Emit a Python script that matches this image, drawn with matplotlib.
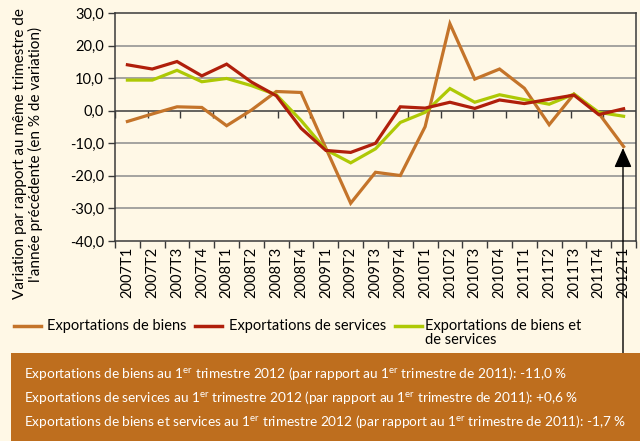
import matplotlib
matplotlib.use("Agg")
import matplotlib.pyplot as plt
import matplotlib.transforms as mtransforms
from matplotlib.lines import Line2D
from matplotlib.patches import Rectangle
import numpy as np

plt.rcParams['font.family'] = ['Lato', 'DejaVu Sans']
plt.rcParams['mathtext.fontset'] = 'custom'
plt.rcParams['mathtext.rm'] = 'Lato'
plt.rcParams['mathtext.it'] = 'Lato:italic'

# Donnees
trimestres = ['2007T1', '2007T2', '2007T3', '2007T4',
              '2008T1', '2008T2', '2008T3', '2008T4',
              '2009T1', '2009T2', '2009T3', '2009T4',
              '2010T1', '2010T2', '2010T3', '2010T4',
              '2011T1', '2011T2', '2011T3', '2011T4', '2012T1']
biens = [-3.3, -1.0, 1.2, 1.0, -4.6, 0.2, 5.9, 5.6,
         -11.5, -28.4, -18.9, -19.9, -4.9, 26.7, 9.7, 12.8,
         6.9, -4.3, 5.1, -0.8, -11.0]
services = [14.1, 12.8, 15.1, 10.7, 14.3, 8.8, 4.6, -5.4,
            -12.2, -12.8, -10.0, 1.2, 0.8, 2.6, 0.7, 3.3,
            2.2, 3.5, 4.8, -1.2, 0.6]
biens_services = [9.4, 9.4, 12.4, 8.9, 9.9, 7.7, 4.9, -3.0,
                  -12.0, -16.0, -11.7, -3.6, -0.5, 6.8, 2.6, 4.9,
                  3.4, 2.0, 5.1, -0.5, -1.7]

legend_labels = ['Exportations de biens', 'Exportations de services',
                 'Exportations de biens et\nde services']
box_lines = [
    'Exportations de biens au 1$^{\\mathrm{er}}$ trimestre 2012 (par rapport au 1$^{\\mathrm{er}}$ trimestre de 2011): -11,0 %',
    'Exportations de services au 1$^{\\mathrm{er}}$ trimestre 2012 (par rapport au 1$^{\\mathrm{er}}$ trimestre de 2011): +0,6 %',
    'Exportations de biens et services au 1$^{\\mathrm{er}}$ trimestre 2012 (par rapport au 1$^{\\mathrm{er}}$ trimestre de 2011): -1,7 %',
]

COLORS = {
    'biens': '#C4742A',
    'services': '#B01F0B',
    'mix': '#AEC905',
    'bg': '#FFF8E6',
    'box': '#BE6E1E',
    'grid': '#8C8C8C',
    'axis': '#3A3A3A',
}

W, H = 640, 441
fig = plt.figure(figsize=(W / 100, H / 100), dpi=100, facecolor=COLORS['bg'])
ax = fig.add_axes([115 / W, 1 - 241 / H, 521 / W, 228 / H])
ax.set_facecolor(COLORS['bg'])

x = np.arange(len(trimestres))
ax.plot(x, biens, color=COLORS['biens'], lw=2.3, zorder=3, solid_joinstyle='miter')
ax.plot(x, biens_services, color=COLORS['mix'], lw=2.3, zorder=4, solid_joinstyle='miter')
ax.plot(x, services, color=COLORS['services'], lw=2.3, zorder=5, solid_joinstyle='miter')

ax.set_xlim(-0.5, len(trimestres) - 0.5)
ax.set_ylim(-40, 30)
yt = np.arange(-40, 31, 10)
ax.set_yticks(yt)
ax.set_yticklabels([f'{v:.1f}'.replace('.', ',') for v in yt], fontsize=10.5)
for v in yt[1:-1]:
    if v != 0:
        ax.axhline(v, color=COLORS['grid'], lw=1.1, zorder=1)
ax.axhline(0, color=COLORS['axis'], lw=1.1, zorder=2)

# petites graduations sur la ligne du zero
trans = mtransforms.blended_transform_factory(ax.transAxes, ax.transData)
ax.vlines(np.linspace(0, 1, 17), -2.2, 0, transform=trans, color=COLORS['axis'], lw=1, zorder=2)

ax.set_xticks(x)
ax.set_xticklabels(trimestres, rotation=90, fontsize=10.5)
ax.set_xticks(np.arange(-0.5, len(trimestres)), minor=True)
ax.tick_params(axis='x', which='major', length=0, pad=4)
ax.tick_params(axis='x', which='minor', length=5, width=1, color=COLORS['axis'])
ax.tick_params(axis='y', length=5, width=1, color=COLORS['axis'], pad=3)
for s in ax.spines.values():
    s.set_color(COLORS['axis'])
    s.set_linewidth(1.1)

fig.text(28 / W, 1 - 154 / H,
         "Variation par rapport au même trimestre de\nl'année précédente (en % de variation)",
         rotation=90, ha='center', va='center', multialignment='center',
         fontsize=11, linespacing=1.0)

# legende
leg_x = [(14, 41, 47), (195, 222, 229), (395, 422, 425)]
leg_colors = [COLORS['biens'], COLORS['services'], COLORS['mix']]
for (x0, x1, tx), c, lab in zip(leg_x, leg_colors, legend_labels):
    fig.add_artist(Line2D([x0 / W, x1 / W], [1 - 326 / H] * 2, color=c, lw=2.5,
                          transform=fig.transFigure))
    fig.text(tx / W, 1 - 319 / H, lab, ha='left', va='top', fontsize=10.5, linespacing=1.0)

# encadre
fig.add_artist(Rectangle((11 / W, 0), 1 - 11 / W, 88 / H, transform=fig.transFigure,
                         facecolor=COLORS['box'], edgecolor='none'))
for i, line in enumerate(box_lines):
    fig.text(24 / W, 1 - (373 + 24 * i) / H, line, ha='left', va='center',
             color='white', fontsize=9.85)

ax.annotate('', xy=(623, H - 148), xytext=(623, H - 353),
            xycoords='figure pixels', textcoords='figure pixels',
            arrowprops=dict(arrowstyle='-|>,head_length=0.6,head_width=0.27',
                            mutation_scale=20, color='black', lw=1,
                            shrinkA=0, shrinkB=0),
            annotation_clip=False, zorder=10)

fig.savefig('out.png', dpi=100, facecolor=COLORS['bg'])
